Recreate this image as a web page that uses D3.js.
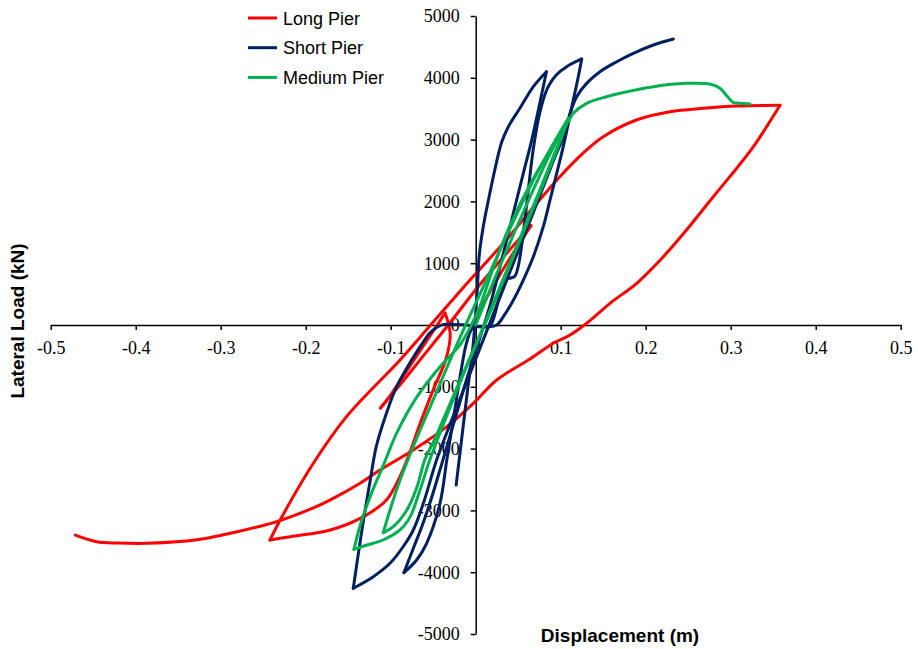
<!DOCTYPE html>
<html>
<head>
<meta charset="utf-8">
<script src="https://cdn.jsdelivr.net/npm/d3@7"></script>
<style>
  html, body { margin: 0; padding: 0; background: #fff; }
  svg { display: block; }
</style>
</head>
<body>
<svg id="chart" width="918" height="649"></svg>
<script>
// ---------------- DATA ----------------
const seriesNames = ["Long Pier", "Short Pier", "Medium Pier"];
const seriesColors = ["#FF0000", "#002060", "#00B050"];

const xTicks = [-0.5, -0.4, -0.3, -0.2, -0.1, 0, 0.1, 0.2, 0.3, 0.4, 0.5];
const xTickLabels = ["-0.5", "-0.4", "-0.3", "-0.2", "-0.1", "0", "0.1", "0.2", "0.3", "0.4", "0.5"];
const yTicks = [-5000, -4000, -3000, -2000, -1000, 0, 1000, 2000, 3000, 4000, 5000];
const yTickLabels = ["-5000", "-4000", "-3000", "-2000", "-1000", "0", "1000", "2000", "3000", "4000", "5000"];

// Each series is a list of load branches (between load reversals).
// Points: [displacement (m), lateral load (kN)]
const longPier = [
  [[-0.005, 0], [0.03, 850], [0.065, 1607]],
  [[0.065, 1607], [0.03, 1060], [0.0, 570], [-0.03, 40], [-0.0675, -600], [-0.09, -985], [-0.112, -1343]],
  [[-0.112, -1343], [-0.1, -1130], [-0.0753, -620], [-0.055, -200], [-0.036, 194]],
  [[-0.036, 194], [-0.03, -150], [-0.035, -550], [-0.05, -1050], [-0.065, -1580], [-0.078, -2080], [-0.09, -2480],
   [-0.105, -2831], [-0.132, -3101], [-0.171, -3317], [-0.218, -3425], [-0.242, -3479]],
  [[-0.242, -3479], [-0.230, -3155], [-0.191, -2238], [-0.152, -1483], [-0.089, -566], [-0.053, 0], [-0.0067, 728],
   [0.0325, 1322], [0.0718, 1969], [0.099, 2400], [0.1305, 2832], [0.150, 3047], [0.189, 3317],
   [0.2286, 3451], [0.2678, 3506], [0.307, 3543], [0.358, 3555]],
  [[0.358, 3555], [0.3267, 2885], [0.299, 2400], [0.2795, 2076], [0.248, 1537], [0.2207, 1105], [0.1894, 675],
   [0.158, 351], [0.1305, 28], [0.111, -162], [0.0913, -296], [0.0639, -550], [0.0247, -890],
   [-0.0028, -1267], [-0.034, -1645], [-0.0734, -2022], [-0.1126, -2346], [-0.136, -2562],
   [-0.171, -2831], [-0.191, -2960], [-0.236, -3190], [-0.289, -3371], [-0.32, -3460],
   [-0.348, -3505], [-0.387, -3533], [-0.42, -3528], [-0.446, -3506], [-0.471, -3400]]
];

const shortPier = [
  [[-0.023, -2590], [-0.017, -1900], [-0.01, -1100], [-0.004, -450], [-0.001, 0], [0.002, 600],
   [0.004, 1100], [0.009, 1600], [0.015, 2022], [0.022, 2480], [0.0306, 2960], [0.0384, 3209],
   [0.052, 3506], [0.0678, 3856], [0.0832, 4098]],
  [[0.0832, 4098], [0.0795, 3856], [0.0737, 3479], [0.0659, 2993], [0.056, 2454], [0.0462, 1914], [0.0365, 1375],
   [0.0286, 943], [0.0207, 513], [0.0129, 134], [0.004, -250], [-0.01, -850], [-0.025, -1550],
   [-0.04, -2250], [-0.052, -2800], [-0.063, -3250], [-0.073, -3600], [-0.0844, -4007]],
  [[-0.0844, -4007], [-0.0695, -3802], [-0.0577, -3532], [-0.042, -2885], [-0.034, -2184], [-0.026, -1500],
   [-0.018, -800], [-0.01, -250], [-0.003, -40], [0.008, -30], [0.017, -10],
   [0.022, 150], [0.027, 420], [0.032, 660], [0.036, 745], [0.041, 760], [0.046, 790], [0.05, 950],
   [0.054, 1280], [0.058, 1720], [0.062, 2200], [0.0678, 2850], [0.0756, 3450], [0.085, 3850],
   [0.095, 4050], [0.107, 4180], [0.1247, 4305]],
  [[0.1247, 4305], [0.1207, 4018], [0.1148, 3640], [0.109, 3263], [0.103, 2885], [0.0953, 2454], [0.0874, 2022],
   [0.0795, 1591], [0.0678, 1105], [0.056, 728], [0.0444, 405], [0.0325, 134], [0.0247, 0],
   [0.015, -30], [0.005, -25], [-0.005, -10], [-0.015, 5], [-0.03, 10], [-0.038, 10], [-0.046, -40],
   [-0.054, -130], [-0.063, -300], [-0.073, -513], [-0.093, -998], [-0.105, -1429], [-0.117, -1969],
   [-0.124, -2508], [-0.132, -3155], [-0.138, -3694], [-0.144, -4260]],
  [[-0.144, -4260], [-0.1205, -4072], [-0.1008, -3856], [-0.085, -3580], [-0.0734, -3317], [-0.0616, -2885],
   [-0.046, -2184], [-0.03, -1600], [-0.01, -900], [0.01, -200], [0.03, 500], [0.05, 1200],
   [0.07, 1900], [0.085, 2430], [0.095, 2780], [0.105, 3102], [0.111, 3425], [0.1188, 3694],
   [0.1305, 3910], [0.1462, 4098], [0.166, 4260], [0.1854, 4396], [0.209, 4531], [0.2325, 4628]]
];

const mediumPier = [
  [[0, 0], [0.03, 1000], [0.06, 1950], [0.085, 2700], [0.109, 3344]],
  [[0.109, 3344], [0.095, 2850], [0.07, 2000], [0.04, 1000], [0.01, 0], [-0.02, -950], [-0.05, -1900],
   [-0.06, -2184], [-0.069, -2616], [-0.081, -2993], [-0.097, -3263], [-0.1087, -3360]],
  [[-0.1087, -3360], [-0.1008, -2993], [-0.089, -2508], [-0.07, -1850], [-0.045, -1050], [-0.02, -250], [0.01, 650],
   [0.04, 1550], [0.07, 2400], [0.09, 2900], [0.109, 3344]],
  [[0.109, 3344], [0.1, 3000], [0.08, 2300], [0.05, 1300], [0.02, 300], [-0.01, -650], [-0.035, -1500],
   [-0.054, -2184], [-0.0655, -2669], [-0.077, -3101], [-0.089, -3317], [-0.109, -3479],
   [-0.128, -3560], [-0.1432, -3629]],
  [[-0.1432, -3629], [-0.135, -3200], [-0.122, -2700], [-0.108, -2250], [-0.093, -1750], [-0.069, -1160],
   [-0.042, -675], [-0.0185, -320], [-0.005, 0], [0.005, 300], [0.02, 900], [0.04, 1600],
   [0.065, 2300], [0.09, 2880], [0.103, 3155], [0.111, 3344], [0.1148, 3425], [0.1305, 3587],
   [0.154, 3694], [0.1698, 3749], [0.209, 3856], [0.248, 3910], [0.2756, 3899], [0.2874, 3830],
   [0.296, 3700], [0.303, 3600], [0.31, 3590], [0.3227, 3575]]
];

// ---------------- CHART ----------------
const svg = d3.select("#chart");
const x = d3.scaleLinear().domain([-0.5, 0.5]).range([50.7, 900.7]);
const y = d3.scaleLinear().domain([-5000, 5000]).range([634, 16]);

const serif = "'Liberation Serif', 'Times New Roman', serif";
const sans = "'Liberation Sans', Arial, sans-serif";

// X axis (through y = 0)
const xAxis = svg.append("g")
  .attr("transform", `translate(0,${y(0)})`)
  .call(d3.axisBottom(x).tickValues(xTicks).tickSize(5).tickSizeOuter(0)
        .tickFormat((d, i) => xTickLabels[i]));
xAxis.select(".domain").attr("stroke", "#000").attr("stroke-width", 1.5);
xAxis.selectAll(".tick line").attr("stroke", "#000").attr("stroke-width", 1.5);
xAxis.selectAll(".tick text")
  .attr("y", 29).attr("dy", null)
  .style("font-family", serif).style("font-size", "18px").attr("fill", "#000");

// Y axis (through x = 0)
const yAxis = svg.append("g")
  .attr("transform", `translate(${x(0)},0)`)
  .call(d3.axisLeft(y).tickValues(yTicks).tickSize(5).tickSizeOuter(0)
        .tickFormat((d, i) => yTickLabels[i]));
yAxis.select(".domain").attr("stroke", "#000").attr("stroke-width", 1.5);
yAxis.selectAll(".tick line").attr("stroke", "#000").attr("stroke-width", 1.5);
yAxis.selectAll(".tick text")
  .attr("x", -16).attr("dy", "0.33em")
  .style("font-family", serif).style("font-size", "18px").attr("fill", "#000");

// Curves: each branch is a smooth centripetal Catmull-Rom through its points
const line = d3.line()
  .x(d => x(d[0]))
  .y(d => y(d[1]))
  .curve(d3.curveCatmullRom.alpha(0.5));

const allSeries = [longPier, shortPier, mediumPier];
allSeries.forEach((branches, i) => {
  svg.append("g").attr("class", "series")
    .selectAll("path")
    .data(branches)
    .join("path")
    .attr("d", line)
    .attr("fill", "none")
    .attr("stroke", seriesColors[i])
    .attr("stroke-width", 3)
    .attr("stroke-linejoin", "round")
    .attr("stroke-linecap", "round");
});

// Axis titles
svg.append("text")
  .attr("transform", `translate(24,321) rotate(-90)`)
  .attr("text-anchor", "middle")
  .style("font-family", sans).style("font-weight", "bold").style("font-size", "19px")
  .text("Lateral Load (kN)");

svg.append("text")
  .attr("x", 620).attr("y", 642)
  .attr("text-anchor", "middle")
  .style("font-family", sans).style("font-weight", "bold").style("font-size", "19px")
  .text("Displacement (m)");

// Legend
const legend = svg.append("g");
seriesNames.forEach((name, i) => {
  const ly = 18 + i * 29.7;
  legend.append("line")
    .attr("x1", 248).attr("x2", 277).attr("y1", ly).attr("y2", ly)
    .attr("stroke", seriesColors[i]).attr("stroke-width", 3);
  legend.append("text")
    .attr("x", 283).attr("y", ly + 6.5)
    .style("font-family", sans).style("font-size", "18px").attr("fill", "#000")
    .text(name);
});
</script>
</body>
</html>
